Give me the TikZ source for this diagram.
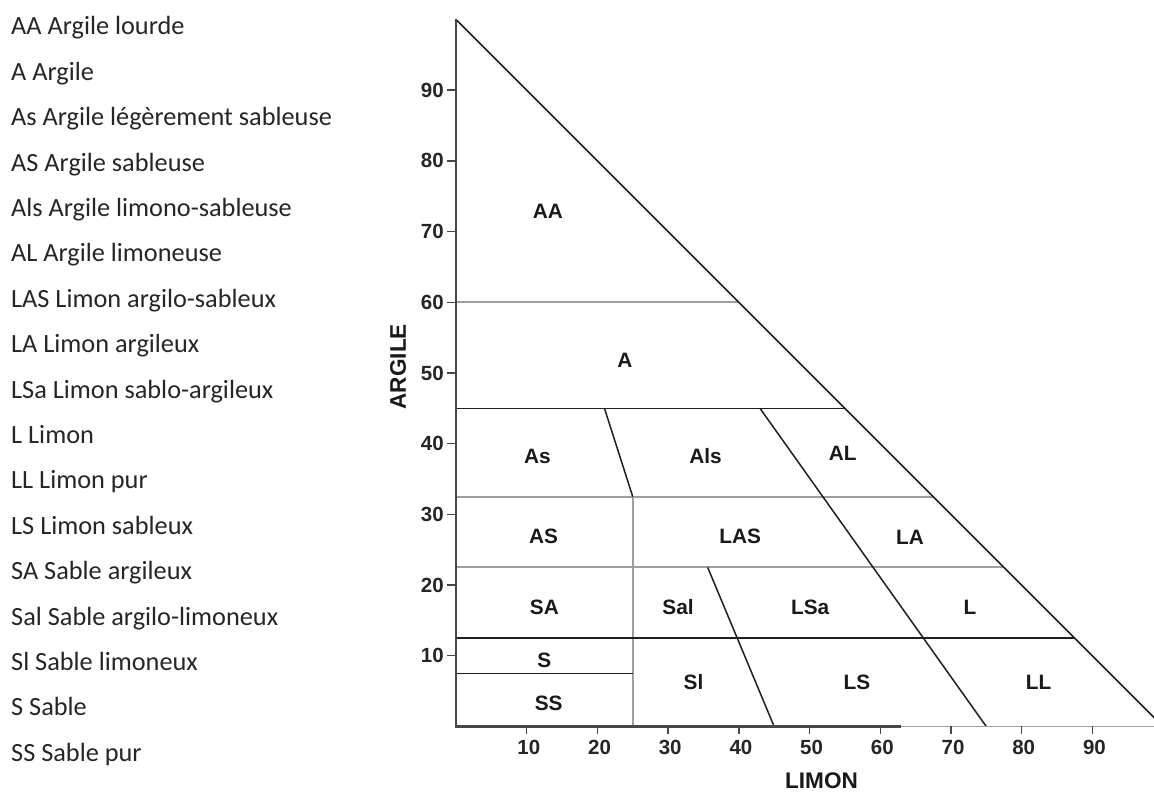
\documentclass[tikz,border=0pt]{standalone}
\usepackage{fontspec}
\setmainfont{Carlito}
\newfontfamily\arialf{Liberation Sans}
\begin{document}
\begin{tikzpicture}[x=1pt,y=1pt,
  legend/.style={anchor=base west, inner sep=0pt, font=\fontsize{26.3}{30}\selectfont, text=black!85},
  region/.style={font=\arialf\bfseries\fontsize{20.8}{24}\selectfont, inner sep=0pt, text=black!90},
  ticklab/.style={font=\arialf\bfseries\fontsize{20.5}{24}\selectfont, inner sep=0pt, text=black!85},
  axtitle/.style={font=\arialf\bfseries\fontsize{22.6}{26}\selectfont, inner sep=0pt, text=black!90},
  blk/.style={draw=black!88, line width=1.5pt},
  gry/.style={draw=black!38, line width=1.9pt},
  axisline/.style={draw=black!72, line width=2.2pt},
  tickmark/.style={draw=black!72, line width=1.4pt}]
\useasboundingbox (0,0) rectangle (1154,792);
\clip (0,0) rectangle (1154,792);
\fill[white] (0,0) rectangle (1154,792);
% legend
\foreach \t [count=\i from 0] in {AA Argile lourde,A Argile,As Argile légèrement sableuse,AS Argile sableuse,Als Argile limono-sableuse,AL Argile limoneuse,LAS Limon argilo-sableux,LA Limon argileux,LSa Limon sablo-argileux,L Limon,LL Limon pur,LS Limon sableux,SA Sable argileux,Sal Sable argilo-limoneux,Sl Sable limoneux,S Sable,SS Sable pur}
  \node[legend] (leg\i) at (11, {792-35-45.4*\i}) {\t};
% chart
\begin{scope}[shift={(456,65.5)}, x=7.07pt, y=7.07pt]
  \coordinate (O) at (0,0);
  \coordinate (T) at (0,100);
  \coordinate (R) at (100,0);
  \coordinate (B) at (63,0);
  % grey boundaries
  \coordinate (g60a) at (0,60);   \coordinate (g60b) at (40,60);
  \coordinate (g32a) at (0,32.5); \coordinate (g32b) at (67.5,32.5);
  \coordinate (g22a) at (0,22.5); \coordinate (g22b) at (77.5,22.5);
  \coordinate (v25a) at (25,0);   \coordinate (v25b) at (25,32.5);
  \draw[gry] (g60a) -- (g60b);
  \draw[gry] (g32a) -- (g32b);
  \draw[gry] (g22a) -- (g22b);
  \draw[gry] (v25a) -- (v25b);
  % black boundaries
  \coordinate (b45a) at (0,45);   \coordinate (b45b) at (55,45);
  \coordinate (b12a) at (0,12.5); \coordinate (b12b) at (87.5,12.5);
  \coordinate (b7a) at (0,7.5);   \coordinate (b7b) at (25,7.5);
  \coordinate (s1a) at (21,45);   \coordinate (s1b) at (25,32.5);
  \coordinate (s2a) at (43,45);   \coordinate (s2b) at (75,0);
  \coordinate (s3a) at (35.6,22.5); \coordinate (s3b) at (45,0);
  \draw[blk] (b45a) -- (b45b);
  \draw[blk] (b12a) -- (b12b);
  \draw[blk] (b7a) -- (b7b);
  \draw[blk] (s1a) -- (s1b);
  \draw[blk] (s2a) -- (s2b);
  \draw[blk] (s3a) -- (s3b);
  \draw[blk] (T) -- (R);
  % axes
  \draw[gry] (B) -- (R);
  \draw[axisline] (T) -- (O) -- (B);
  \foreach \v in {10,20,...,90} {
    \draw[tickmark] (\v,0) -- (\v,-1);
    \draw[tickmark] (0,\v) -- (-1.3,\v);
    \node[ticklab] (xt\v) at (\v+0.3,-2.9) {\v};
    \node[ticklab] (yt\v) at (-3.35,\v) {\v};
  }
  \node[axtitle] (limon) at (51.7,-7.7) {LIMON};
  \node[axtitle, rotate=90] (argile) at (-8.2,50.9) {ARGILE};
  % region labels
  \node[region] (AA)  at (13,72.8) {AA};
  \node[region] (A)   at (23.9,51.8) {A};
  \node[region] (As)  at (11.5,38.2) {As};
  \node[region] (Als) at (35.3,38.2) {Als};
  \node[region] (AL)  at (54.7,38.6) {AL};
  \node[region] (AS)  at (12.4,26.9) {AS};
  \node[region] (LAS) at (40.2,26.9) {LAS};
  \node[region] (LA)  at (64.2,26.8) {LA};
  \node[region] (SA)  at (12.5,16.9) {SA};
  \node[region] (Sal) at (31.4,16.9) {Sal};
  \node[region] (LSa) at (50.1,16.9) {LSa};
  \node[region] (L)   at (72.7,16.9) {L};
  \node[region] (S)   at (12.5,9.4) {S};
  \node[region] (SS)  at (13.1,3.3) {SS};
  \node[region] (Sl)  at (33.6,6.3) {Sl};
  \node[region] (LS)  at (56.7,6.3) {LS};
  \node[region] (LL)  at (82.4,6.3) {LL};
\end{scope}
\end{tikzpicture}
\end{document}
